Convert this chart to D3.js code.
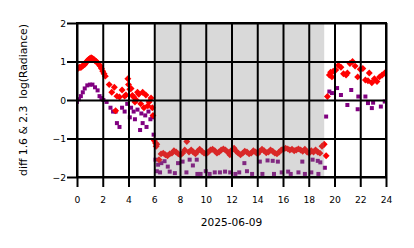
<!DOCTYPE html>
<html><head><meta charset="utf-8">
<script src="https://cdn.jsdelivr.net/npm/d3@7"></script>
<style>html,body{margin:0;padding:0;background:#fff;}svg{display:block;font-family:"DejaVu Sans",sans-serif;}</style>
</head><body><svg id="c" width="414" height="248"></svg>
<script>
// red: diff 1.6 (hour, value)
const redHours = [0.0,0.1,0.2,0.3,0.4,0.5,0.6,0.7,0.8,0.9,1.0,1.1,1.2,1.3,1.4,1.5,1.6,1.7,1.8,1.9,2.0,2.1,2.2,2.5,2.7,2.9,3.0,3.1,3.3,3.5,3.7,3.8,3.95,4.0,4.1,4.2,4.3,4.4,4.5,4.6,4.7,4.8,4.95,5.1,5.2,5.35,5.5,5.6,5.75,5.85,5.9,6.0,6.1,6.15,
 6.20,6.37,6.53,6.70,6.87,7.03,7.20,7.37,7.53,7.70,7.87,8.03,8.20,8.37,8.53,8.70,8.87,9.03,9.20,9.37,9.53,9.70,9.87,10.03,10.20,10.37,10.53,10.70,10.87,11.03,11.20,11.37,11.53,11.70,11.87,12.03,12.20,12.37,12.53,12.70,12.87,13.03,13.20,13.37,13.53,13.70,13.87,14.03,14.20,14.37,14.53,14.70,14.87,15.03,15.20,15.37,15.53,15.70,15.87,16.03,16.20,16.37,16.53,16.70,16.87,17.03,17.20,17.37,17.53,17.70,17.87,18.03,18.20,18.37,18.53,18.70,18.87,19.03,19.20,19.35,
 19.45,19.6,19.7,19.8,19.9,20.1,20.3,20.5,20.7,20.9,21.0,21.2,21.4,21.6,21.8,22.0,22.2,22.4,22.6,22.7,22.9,23.1,23.3,23.5,23.7,23.9];
const redValues = [0.80,0.83,0.85,0.84,0.88,0.90,0.92,0.97,1.02,1.05,1.08,1.10,1.08,1.06,1.02,1.00,0.97,0.92,0.88,0.82,0.75,0.68,0.62,0.40,0.20,0.33,-0.28,0.10,0.08,0.26,0.10,0.13,0.55,0.40,0.28,0.30,0.12,0.08,-0.05,0.00,0.20,0.15,-0.10,0.20,-0.20,0.13,-0.15,-0.05,0.05,-0.20,-0.40,-1.05,-1.12,-1.20,
 -1.15,-1.55,-1.40,-1.38,-1.42,-1.45,-1.40,-1.38,-1.32,-1.35,-1.40,-1.43,-1.38,-1.30,-1.08,-1.35,-1.30,-1.35,-1.40,-1.33,-1.28,-1.33,-1.38,-1.40,-1.35,-1.30,-1.28,-1.32,-1.38,-1.35,-1.30,-1.27,-1.30,-1.35,-1.42,-1.30,-1.25,-1.33,-1.38,-1.42,-1.38,-1.33,-1.35,-1.40,-1.38,-1.32,-1.35,-1.40,-1.33,-1.28,-1.32,-1.37,-1.35,-1.30,-1.33,-1.38,-1.40,-1.35,-1.30,-1.28,-1.25,-1.27,-1.30,-1.28,-1.32,-1.30,-1.27,-1.30,-1.33,-1.28,-1.35,-1.38,-1.32,-1.35,-1.30,-1.35,-1.38,-1.20,-1.15,-1.45,
 0.09,0.65,0.72,0.60,0.75,0.78,0.90,0.85,0.68,0.65,0.70,0.95,1.00,0.88,0.60,0.80,0.82,0.52,0.50,0.70,0.45,0.55,0.48,0.60,0.65,0.70];
// purple: diff 2.3 (hour, value)
const purpleHours = [0.0,0.15,0.3,0.45,0.6,0.8,1.0,1.2,1.4,1.6,1.75,1.9,2.05,2.3,2.6,2.8,3.0,3.1,3.3,3.5,3.7,3.9,4.1,4.2,4.4,4.5,4.7,4.9,5.0,5.1,5.3,5.4,5.55,5.7,5.85,5.95,6.1,6.2,
 6.3,6.45,6.55,6.8,7.05,7.2,7.6,7.85,8.2,8.5,8.75,9.0,9.3,9.35,9.6,10.0,10.3,10.7,11.1,11.5,11.9,12.3,12.6,13.0,13.2,13.6,14.2,14.4,14.8,15.2,15.3,15.6,15.9,16.4,16.6,17.2,17.5,17.7,18.2,18.3,18.7,18.75,18.9,19.25,
 19.35,19.6,19.8,20.2,20.5,21.0,21.3,21.8,21.85,22.4,22.6,22.9,23.0,23.6,23.9];
const purpleValues = [-0.05,0.02,0.10,0.20,0.30,0.38,0.40,0.40,0.33,0.25,0.10,0.05,0.00,-0.05,-0.20,-0.30,-0.30,-0.60,-0.70,-0.20,-0.30,-0.10,-0.45,-0.20,-0.30,-0.50,-0.25,-0.78,-0.35,-0.60,-0.40,-0.70,-0.30,-0.50,-0.45,-0.90,-1.55,-1.85,
 -1.68,-1.88,-1.64,-1.59,-1.73,-1.86,-1.90,-1.64,-1.60,-1.88,-1.55,-1.70,-1.55,-1.92,-1.92,-1.85,-1.92,-1.88,-1.88,-1.86,-1.88,-1.92,-1.88,-1.64,-1.85,-1.92,-1.60,-1.92,-1.57,-1.58,-1.92,-1.60,-1.88,-1.86,-1.92,-1.88,-1.60,-1.92,-1.88,-1.55,-1.58,-1.92,-1.62,-1.76,
 -0.43,0.22,0.18,0.31,0.13,-0.13,0.26,-0.24,0.09,0.09,-0.08,-0.21,-0.07,-0.17,-0.04];
const xTicks = [0,2,4,6,8,10,12,14,16,18,20,22,24];
const yTicks = [-2,-1,0,1,2];
const nightSpan = [6.1, 19.2];
const xLabel = "2025-06-09";
const yLabel = "diff 1.6 & 2.3  log(Radiance)";

const svg = d3.select("#c");
const x = d3.scaleLinear().domain([0,24]).range([77,386]);
const y = d3.scaleLinear().domain([-2,2]).range([177,23]);

const red = redHours.map((h,i)=>[h,redValues[i]]);
const pur = purpleHours.map((h,i)=>[h,purpleValues[i]]);

svg.append("clipPath").attr("id","pc").append("rect")
  .attr("x",x(0)).attr("y",y(2)).attr("width",x(24)-x(0)).attr("height",y(-2)-y(2));
const g = svg.append("g").attr("clip-path","url(#pc)");

g.selectAll("rect.p").data(pur).join("rect").attr("class","p")
  .attr("x",d=>x(d[0])-2).attr("y",d=>y(d[1])-2).attr("width",4).attr("height",4)
  .attr("fill","#800080");
g.selectAll("path.r").data(red).join("path").attr("class","r")
  .attr("d",d3.symbol(d3.symbolSquare,24))
  .attr("transform",d=>`translate(${x(d[0])},${y(d[1])}) rotate(45)`)
  .attr("fill","#ff0000");

// night shading
g.append("rect").attr("x",x(nightSpan[0])).attr("y",y(2)).attr("width",x(nightSpan[1])-x(nightSpan[0]))
  .attr("height",y(-2)-y(2)).attr("fill","#808080").attr("fill-opacity",0.3);

// grid + axes
const xa = d3.axisBottom(x).tickValues(xTicks).tickSize(-(y(-2)-y(2))-10).tickFormat(d3.format("d"));
const ya = d3.axisLeft(y).tickValues(yTicks).tickSize(-(x(24)-x(0))-10).tickFormat(d=>d<0?"\u2212"+Math.abs(d):d);
const gx = svg.append("g").attr("transform",`translate(0,${y(-2)+10})`).call(xa);
const gy = svg.append("g").attr("transform",`translate(${x(0)-10},0)`).call(ya);
[gx,gy].forEach(a=>{a.select(".domain").remove();
  a.selectAll(".tick line").attr("stroke","#000").attr("stroke-width",2);
  a.selectAll(".tick text").attr("fill","#000").attr("font-size","9.2px").attr("font-family","DejaVu Sans");});
gx.selectAll(".tick text").attr("dy","0.71em").attr("y",9.5);
gy.selectAll(".tick text").attr("x",-1).attr("dy","0.35em");
// frame
svg.append("rect").attr("x",x(0)).attr("y",y(2)).attr("width",x(24)-x(0)).attr("height",y(-2)-y(2))
  .attr("fill","none").attr("stroke","#000").attr("stroke-width",2);

svg.append("text").attr("x",(x(0)+x(24))/2).attr("y",226).attr("text-anchor","middle")
  .attr("font-size","10.6px").text(xLabel);
svg.append("text").attr("transform",`translate(27,${(y(2)+y(-2))/2}) rotate(-90)`).attr("text-anchor","middle")
  .attr("font-size","10.8px").style("white-space","pre").text(yLabel);
</script></body></html>
